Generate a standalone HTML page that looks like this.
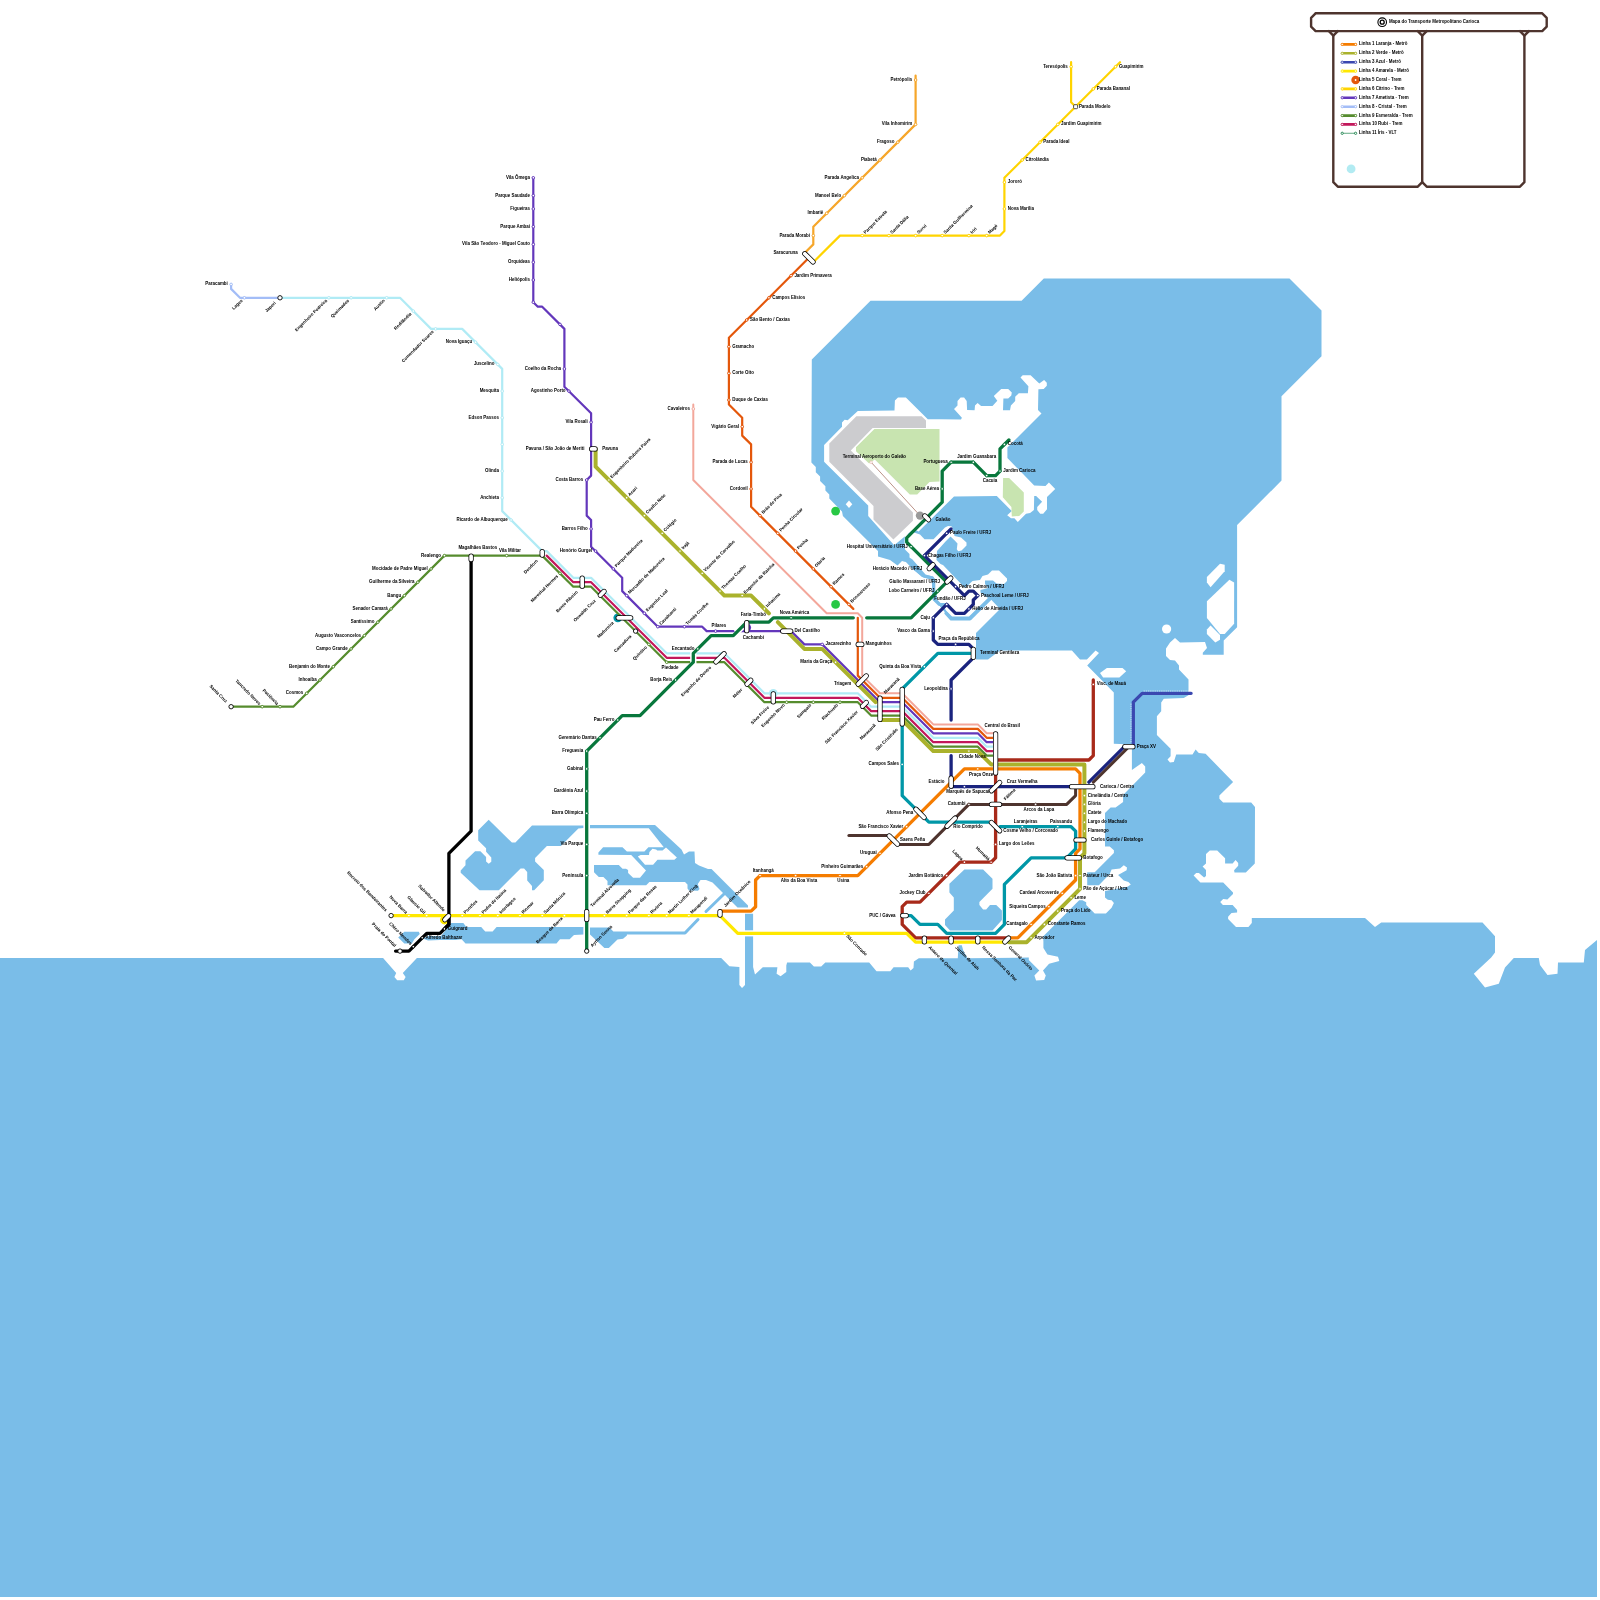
<!DOCTYPE html>
<html lang="pt-BR"><head><meta charset="utf-8"><title>Mapa do Transporte Metropolitano Carioca</title>
<style>html,body{margin:0;padding:0;background:#fff}svg{display:block;will-change:transform}</style></head>
<body>
<svg width="1600" height="1600" viewBox="0 0 1600 1600">
<rect width="1600" height="1600" fill="#fff"/>
<polygon points="870.5,300.7 1021.6,300.7 1043.8,278.5 1289.5,278.5 1321.5,310.5 1321.5,356.2 1281.5,396.2 1281.5,480.6 1237.1,525.1 1237.1,627.3 1223.7,640.6 1223.7,654.7 1202.8,654.8 1202.8,652.8 1207.0,648.0 1205.0,642.0 1180.0,642.5 1175.0,638.0 1170.0,642.5 1166.0,648.5 1166.0,656.0 1170.0,660.0 1175.0,660.5 1179.0,665.5 1179.0,669.5 1188.5,679.5 1188.5,690.0 1188.8,695.0 1183.8,698.1 1163.8,698.8 1161.2,702.5 1161.2,711.2 1156.9,716.2 1156.9,735.0 1170.6,748.8 1170.6,756.2 1167.5,759.4 1170.0,762.5 1173.8,761.9 1176.2,754.4 1192.5,754.4 1195.6,749.4 1198.8,753.1 1205.6,753.8 1233.1,781.9 1219.4,795.6 1219.4,798.8 1223.1,802.5 1251.2,802.5 1255.0,806.9 1254.8,863.5 1245.8,872.5 1234.5,872.5 1234.1,870.2 1238.2,865.8 1238.2,863.1 1235.6,860.1 1232.6,863.5 1225.1,863.5 1225.1,858.2 1217.2,850.4 1209.8,850.4 1206.0,854.1 1206.0,863.5 1202.6,866.5 1206.0,869.9 1206.0,875.9 1204.1,877.4 1198.9,872.9 1196.2,872.9 1193.6,875.5 1200.4,882.6 1223.2,882.6 1233.0,892.4 1233.0,893.9 1227.4,899.5 1223.2,899.1 1220.2,902.1 1222.9,905.1 1232.6,905.1 1237.1,910.0 1237.1,912.6 1231.5,913.0 1228.1,916.8 1228.1,919.0 1236.0,926.9 1248.4,926.9 1251.8,923.1 1251.8,917.9 1365.0,918.0 1375.0,927.0 1381.2,922.5 1482.5,922.5 1495.0,936.2 1495.0,952.5 1491.2,957.5 1473.8,973.8 1485.0,987.5 1498.8,983.8 1505.0,967.5 1513.8,958.0 1538.8,958.0 1540.0,965.0 1547.5,975.0 1557.5,973.8 1558.0,962.5 1583.8,962.5 1585.0,950.0 1597.0,940.0 1597.0,1597.0 -3.0,1597.0 -3.0,958.1 383.1,958.1 396.2,973.1 394.4,976.9 397.2,980.2 403.8,980.2 405.6,976.9 402.8,973.1 416.9,958.1 721.2,958.1 729.4,966.2 739.4,966.9 739.4,985.0 742.0,988.0 745.0,985.0 745.0,913.8 753.1,913.8 753.1,966.9 755.0,974.4 762.8,967.2 777.4,967.2 776.6,973.8 780.6,976.2 786.3,972.1 786.3,965.6 787.1,962.4 809.9,962.4 813.9,966.4 821.2,966.4 825.3,962.4 869.2,962.4 876.5,971.3 890.3,971.3 893.6,967.2 908.2,967.2 910.6,970.5 913.5,968.1 913.9,961.6 918.8,958.3 957.8,958.3 958.6,945.3 961.8,945.3 963.4,951.0 967.5,958.3 1028.8,957.6 1028.8,960.1 1039.3,970.6 1034.4,975.5 1036.1,980.4 1044.2,980.0 1045.8,975.5 1043.0,970.6 1049.1,963.8 1059.3,960.9 1058.0,956.8 1047.4,954.4 1043.4,947.9 1043.4,941.4 1043.1,936.4 1079.2,900.3 1082.5,900.3 1086.2,902.2 1086.2,905.0 1094.7,913.4 1105.9,913.4 1111.6,907.8 1113.9,903.1 1111.6,900.3 1107.8,899.8 1105.0,897.5 1105.0,890.9 1127.5,886.7 1130.8,884.4 1128.4,882.0 1123.8,880.6 1118.1,875.0 1126.6,870.3 1127.0,867.5 1123.8,865.2 1120.0,868.4 1111.6,869.4 1109.7,874.1 1098.9,885.3 1087.2,885.3 1087.2,872.2 1094.7,872.2 1113.9,853.0 1113.9,850.2 1109.7,846.4 1105.0,846.4 1105.0,830.0 1105.0,813.1 1110.6,807.5 1115.6,807.5 1123.1,801.9 1123.1,795.0 1145.2,772.5 1145.2,766.5 1141.9,763.1 1131.9,770.0 1131.9,744.4 1113.8,743.8 1113.8,692.5 1087.2,665.6 1099.0,653.1 1095.6,650.6 1086.9,659.4 1080.0,659.4 1071.9,650.6 1060.0,650.6 1000.0,650.6 988.0,659.5 976.0,659.5 976.0,633.0 1000.0,609.0 990.0,598.5 970.0,618.5 951.0,618.5 945.5,613.0 938.0,604.0 933.0,600.0 932.5,590.0 931.5,579.5 922.0,577.0 914.0,570.0 906.5,561.5 902.0,561.0 897.5,565.5 890.0,560.0 878.0,556.6 878.0,550.9 856.9,530.0 842.9,516.0 842.0,511.6 829.3,498.5 829.3,494.6 825.4,490.6 825.4,486.2 820.1,481.0 820.1,476.6 815.8,472.2 815.8,467.0 811.4,462.6 811.8,359.4" fill="#7abde8"/>
<polygon points="488.7,819.8 511.9,842.6 515.4,842.6 532.0,825.5 583.6,825.5 583.6,828.1 578.4,828.6 560.9,846.1 546.9,846.1 535.1,857.9 535.1,861.4 543.8,870.1 543.8,880.2 534.2,890.2 532.0,890.2 532.0,885.9 527.2,880.6 527.2,871.9 524.1,868.4 520.6,868.4 498.8,890.2 479.5,890.2 460.7,872.8 460.7,870.6 465.5,865.3 465.5,860.5 475.1,851.3 480.4,851.3 486.1,857.0 486.1,861.4 488.7,863.8 491.3,861.8 491.3,857.4 486.1,851.8 486.1,848.2 478.2,840.4 478.2,830.3" fill="#7abde8"/>
<polygon points="423.0,938.5 428.0,936.0 441.0,936.0 449.0,926.0 451.0,923.0 463.3,923.0 466.4,927.0 481.2,927.0 485.2,931.4 492.6,931.4 496.6,927.0 583.6,927.0 583.6,934.4 574.0,934.9 569.6,939.2 560.0,939.2 556.5,943.6 465.5,943.6 461.6,939.2 455.0,940.0 440.0,940.0 428.0,940.5" fill="#7abde8"/>
<polygon points="398.2,937.5 404.3,931.8 418.8,931.8 419.8,934.0 414.4,939.2 411.8,943.6 404.3,943.6" fill="#7abde8"/>
<polygon points="590.0,927.5 609.4,927.5 614.4,932.5 626.9,932.5 626.9,935.6 623.1,938.8 617.5,939.4 608.8,948.1 604.4,948.1 590.0,934.4" fill="#7abde8"/>
<polygon points="590.0,825.0 655.0,825.0 681.5,849.5 684.0,854.5 689.0,851.5 694.5,851.5 695.0,863.0 699.0,865.5 708.0,869.0 711.5,869.0 748.0,905.5 748.0,907.5 737.5,907.5 712.5,882.5 706.0,880.0 700.5,880.0 697.8,884.0 699.5,889.0 698.0,890.8 689.0,890.5 687.5,888.5 687.5,884.4 685.0,881.9 649.4,881.9 646.2,885.3 607.5,885.3 607.5,880.9 603.4,876.9 598.8,876.9 594.0,872.2 594.0,865.0 618.8,865.0 622.5,868.8 626.0,868.8 628.1,870.0 628.1,873.1 633.1,877.8 640.0,877.8 646.0,870.6 631.2,855.0 598.4,854.7 598.4,852.5 603.1,847.2 622.5,847.2 626.9,851.6 644.4,851.6 648.4,847.2 663.8,847.2 648.8,828.3 590.0,828.3" fill="#7abde8"/>
<polygon points="964.4,869.4 983.1,869.4 992.5,878.8 992.5,888.8 979.4,901.9 979.4,905.0 983.1,909.4 986.2,909.4 990.0,905.0 996.2,905.0 1001.9,910.6 1001.9,920.0 992.5,930.6 950.0,930.6 945.0,925.0 945.0,919.4 953.8,910.6 953.8,897.5 949.4,892.5 949.4,883.8" fill="#7abde8"/>
<polygon points="637.8,856.6 645.0,864.7 653.1,864.7 657.5,859.7 674.4,859.7 676.9,857.5 666.0,847.5 662.5,850.6 657.2,850.6 656.2,849.4 652.5,848.8 649.4,851.9 649.0,855.0 640.6,855.0" fill="#fff"/>
<polyline points="706.0,911.5 724.0,894.0" fill="none" stroke="#7abde8" stroke-width="3.00" stroke-linecap="round" stroke-linejoin="round"/>
<polyline points="614.0,933.0 685.0,933.0 698.0,919.5" fill="none" stroke="#7abde8" stroke-width="3.00" stroke-linecap="round" stroke-linejoin="round"/>
<polygon points="824.1,445.1 842.0,426.8 842.0,422.4 844.6,419.8 847.7,420.2 857.8,411.0 894.5,410.6 894.9,400.5 898.0,397.4 905.9,397.4 927.8,419.3 940.0,419.3 961.0,419.5 961.9,417.8 954.0,409.0 957.5,405.5 957.5,401.1 960.6,397.6 964.1,397.6 966.7,401.1 967.1,409.9 974.6,410.3 975.0,405.5 977.6,402.9 981.1,405.9 992.5,405.9 997.3,400.7 993.8,395.9 1001.2,388.9 1008.2,388.9 1011.8,392.4 1011.3,395.4 1008.2,398.5 1003.4,398.5 1003.0,410.3 1010.0,410.3 1010.9,405.5 1015.2,401.1 1015.2,396.8 1018.8,393.2 1027.9,393.2 1028.4,386.2 1020.5,377.5 1022.7,375.3 1030.6,375.3 1039.3,383.6 1044.1,380.1 1046.8,382.8 1046.8,385.8 1043.7,388.9 1038.4,389.3 1038.0,409.9 1041.5,413.4 1007.4,447.5 1007.4,458.0 1034.2,485.6 1045.5,486.0 1048.9,482.6 1055.2,489.0 1047.0,496.9 1047.0,509.2 1043.2,513.8 1040.2,513.8 1037.2,510.0 1037.2,507.0 1042.1,501.8 1036.1,496.1 1034.2,496.1 1033.9,510.0 1030.1,513.0 1026.0,513.8 1017.8,522.0 1014.4,518.2 1011.0,518.2 1007.2,515.2 1011.8,511.1 996.8,496.1 954.0,496.5 918.6,531.4 913.8,529.0 894.2,545.2 868.2,516.0 868.2,505.5 824.1,461.8" fill="#fff"/>
<polygon points="905.0,535.0 914.0,532.5 920.0,534.5 924.5,539.2 933.5,539.2 945.0,527.5 948.0,526.0 951.5,526.2 953.0,529.2 954.5,536.0 961.0,537.5 966.5,542.5 966.5,545.5 961.5,550.5 958.2,551.2 956.8,549.2 957.5,543.5 954.2,540.0 950.5,536.5 946.0,541.0 937.0,551.0 936.5,560.0 954.5,578.0 950.0,595.0 935.0,595.0 935.0,579.5 933.0,576.5 925.5,574.5 912.5,559.5 909.5,557.5 909.5,554.0 905.0,549.5 904.5,542.0" fill="#fff"/>
<polygon points="935.0,575.0 940.0,564.0 943.0,565.0 954.0,576.5 965.0,588.0 972.5,581.0 980.0,580.0 982.5,576.0 988.0,574.5 992.0,570.5 999.0,570.5 1007.0,578.5 1007.0,581.0 1004.0,584.0 996.5,583.5 993.0,580.5 985.0,580.5 985.0,584.0 988.0,588.0 980.5,590.0 980.5,592.5 986.5,597.0 988.0,598.0 969.0,616.5 952.0,616.5 946.5,611.0 941.5,604.0 937.0,599.5 936.5,585.0" fill="#fff"/>
<polygon points="1100.0,673.1 1106.9,668.1 1122.5,668.1 1126.2,671.2 1119.4,677.5 1103.1,677.5" fill="#fff"/>
<polygon points="1206.9,582.5 1206.9,576.9 1220.0,563.8 1224.7,564.7 1224.7,571.2 1210.6,587.2" fill="#fff"/>
<polygon points="1206.9,601.2 1229.4,579.7 1234.1,582.5 1234.1,623.8 1224.7,634.1 1220.0,634.1 1206.9,618.1" fill="#fff"/>
<polygon points="1206.9,629.4 1210.6,625.6 1220.0,635.0 1220.0,639.7 1215.3,642.5 1206.9,634.1" fill="#fff"/>
<polyline points="902.5,559.5 906.5,560.5 914.0,568.2 924.5,576.2 932.5,578.0 933.8,580.0 933.8,590.0 934.0,599.2 939.2,604.5 946.0,604.5" fill="none" stroke="#7abde8" stroke-width="3.00" stroke-linecap="round" stroke-linejoin="round"/>
<polyline points="946.0,613.1 951.2,618.8 970.0,618.8 991.8,597.0" fill="none" stroke="#7abde8" stroke-width="3.30" stroke-linecap="round" stroke-linejoin="round"/>
<circle cx="1166.6" cy="629" r="4.6" fill="#fff"/>
<polygon points="849.0,500.4 852.3,504.2 849.0,508.1 845.7,504.2" fill="#fff"/>
<polygon points="829.3,443.4 856.4,416.2 921.6,416.2 926.0,420.6 926.0,428.1 872.6,428.1 850.8,450.4 912.9,512.5 912.9,520.8 893.4,539.6 873.5,519.5 873.5,505.9 829.3,461.8" fill="#cccccf"/>
<polygon points="856.0,447.3 874.4,428.9 939.5,428.9 939.5,481.4 929.5,481.9 917.2,494.6 909.8,494.6 874.8,459.6 869.1,463.5 856.0,451.2" fill="#c8e4b0"/>
<polygon points="1003.1,478.1 1009.1,478.1 1023.8,492.4 1023.8,511.5 1019.2,516.0 1011.8,516.4 1011.4,507.0 1002.8,497.2" fill="#c8e4b0"/>
<polyline points="586.7,820.0 586.7,951.1" fill="none" stroke="#fff" stroke-width="6.20" stroke-linecap="butt" stroke-linejoin="round"/>
<polygon points="743.5,930.3 754.6,930.3 754.6,936.4 743.5,936.4" fill="#fff"/>
<circle cx="835.6" cy="511.1" r="4.4" fill="#28c845"/>
<circle cx="835.6" cy="604.4" r="4.4" fill="#28c845"/>
<polyline points="871.1,462.2 920.0,515.6" fill="none" stroke="#a9776b" stroke-width="0.80" stroke-linecap="round" stroke-linejoin="round"/>
<circle cx="920.0" cy="515.6" r="4.2" fill="#9a9a9a"/>
<circle cx="871.1" cy="462.2" r="1.3" fill="#fff" stroke="#e8b0a8" stroke-width="0.6"/>
<circle cx="617.8" cy="617.8" r="4.4" fill="#0097a7"/>
<circle cx="444.4" cy="920.0" r="4.4" fill="#ffe800"/>
<circle cx="746.7" cy="627.6" r="4.4" fill="#6337bb"/>
<circle cx="773.3" cy="693.3" r="4.4" fill="#b0ebf5"/>
<polyline points="231.1,284.4 231.1,288.9 240.0,297.8 280.0,297.8" fill="none" stroke="#a3bdf7" stroke-width="2.20" stroke-linecap="round" stroke-linejoin="round"/>
<polyline points="280.0,297.8 400.0,297.8 431.1,328.9 462.2,328.9 502.2,368.9 502.2,511.1 542.2,551.1 546.7,551.1 573.3,577.8 591.1,577.8 666.7,653.3 724.4,653.3 764.4,693.3 857.8,693.3 871.1,706.7 902.2,706.7 933.3,737.8 977.8,737.8 986.7,746.7 995.6,746.7" fill="none" stroke="#b0ebf5" stroke-width="2.20" stroke-linecap="round" stroke-linejoin="round"/>
<polyline points="546.7,555.6 573.3,582.2 591.1,582.2 666.7,657.8 724.4,657.8 764.4,697.8 857.8,697.8 871.1,711.1 902.2,711.1 933.3,742.2 977.8,742.2 986.7,751.1 995.6,751.1" fill="none" stroke="#c2185b" stroke-width="2.20" stroke-linecap="round" stroke-linejoin="round"/>
<polyline points="231.1,706.7 293.3,706.7 444.4,555.6 542.2,555.6 573.3,586.7 591.1,586.7 666.7,662.2 724.4,662.2 764.4,702.2 857.8,702.2 871.1,715.6 902.2,715.6 933.3,746.7 977.8,746.7 986.7,755.6 995.6,755.6" fill="none" stroke="#568c2e" stroke-width="2.20" stroke-linecap="round" stroke-linejoin="round"/>
<polyline points="533.3,177.8 533.3,302.2 537.8,306.7 542.2,306.7 564.4,328.9 564.4,386.7 591.1,413.3 591.1,475.6 586.7,480.0 586.7,515.6 591.1,520.0 591.1,546.7 622.2,577.8 622.2,591.1 657.8,626.7 702.2,626.7 706.7,631.1 791.1,631.1 804.4,644.4 822.2,644.4 880.0,702.2 902.2,702.2 933.3,733.3 977.8,733.3 986.7,742.2 995.6,742.2" fill="none" stroke="#6337bb" stroke-width="2.20" stroke-linecap="round" stroke-linejoin="round"/>
<polyline points="693.3,404.4 693.3,480.0 826.7,613.3 857.8,613.3 862.2,617.8 862.2,675.6 880.0,693.3 902.2,693.3 933.3,724.4 977.8,724.4 986.7,733.3 995.6,733.3" fill="none" stroke="#f3a79b" stroke-width="2.00" stroke-linecap="round" stroke-linejoin="round"/>
<polyline points="808.9,257.8 728.9,337.8 728.9,404.4 742.2,417.8 742.2,435.6 751.1,444.4 751.1,506.7 853.3,608.9" fill="none" stroke="#e4570b" stroke-width="2.20" stroke-linecap="round" stroke-linejoin="round"/>
<polyline points="857.8,617.8 857.8,675.6 880.0,697.8 902.2,697.8 933.3,728.9 977.8,728.9 986.7,737.8 995.6,737.8" fill="none" stroke="#e4570b" stroke-width="2.20" stroke-linecap="round" stroke-linejoin="round"/>
<polyline points="915.6,75.6 915.6,124.4 813.3,226.7 813.3,244.4 804.4,253.3" fill="none" stroke="#f6a62a" stroke-width="2.20" stroke-linecap="round" stroke-linejoin="round"/>
<polyline points="813.3,262.2 840.0,235.6 1000.0,235.6 1004.4,231.1 1004.4,177.8 1120.0,62.2" fill="none" stroke="#ffd400" stroke-width="2.20" stroke-linecap="round" stroke-linejoin="round"/>
<polyline points="1071.1,62.2 1071.1,102.2 1075.6,106.7" fill="none" stroke="#ffd400" stroke-width="2.20" stroke-linecap="round" stroke-linejoin="round"/>
<polyline points="693.3,649.8 693.3,665.8" fill="none" stroke="#fff" stroke-width="6.30" stroke-linecap="butt" stroke-linejoin="round"/>
<polyline points="736.0,632.9 742.2,626.7" fill="none" stroke="#fff" stroke-width="6.30" stroke-linecap="butt" stroke-linejoin="round"/>
<polyline points="1008.9,440.0 1000.0,448.9 1000.0,471.1 995.6,475.6 986.7,475.6 973.3,462.2 951.1,462.2 942.2,471.1 942.2,502.2 906.7,537.8 906.7,542.2 946.7,582.2 911.1,617.8 866.7,617.8" fill="none" stroke="#08773c" stroke-width="3.30" stroke-linecap="round" stroke-linejoin="round"/>
<polyline points="853.3,617.8 773.3,617.8 768.9,622.2 746.7,622.2 733.3,635.6 711.1,635.6 693.3,653.3 693.3,662.2 640.0,715.6 622.2,715.6 586.7,751.1 586.7,951.1" fill="none" stroke="#08773c" stroke-width="3.30" stroke-linecap="round" stroke-linejoin="round"/>
<polyline points="595.6,448.9 595.6,466.7 724.4,595.6 751.1,595.6 768.9,613.3" fill="none" stroke="#aab22c" stroke-width="4.00" stroke-linecap="round" stroke-linejoin="round"/>
<polyline points="777.8,622.2 804.4,648.9 822.2,648.9 875.6,702.2" fill="none" stroke="#aab22c" stroke-width="4.00" stroke-linecap="round" stroke-linejoin="round"/>
<polyline points="880.0,720.0 902.2,720.0 933.3,751.1 977.8,751.1 991.1,764.4 1084.4,764.4 1084.4,853.3 1080.0,857.8 1080.0,888.9 1026.7,942.2 1008.9,942.2" fill="none" stroke="#aab22c" stroke-width="4.00" stroke-linecap="round" stroke-linejoin="round"/>
<polyline points="973.3,653.3 937.8,653.3 902.2,688.9" fill="none" stroke="#0097a7" stroke-width="3.30" stroke-linecap="round" stroke-linejoin="round"/>
<polyline points="902.2,724.4 902.2,795.6 928.9,822.2 991.1,822.2" fill="none" stroke="#0097a7" stroke-width="3.30" stroke-linecap="round" stroke-linejoin="round"/>
<polyline points="1000.0,826.7 1071.1,826.7 1075.6,831.1 1075.6,848.9 1066.7,857.8 1031.1,857.8 1004.4,884.4 1004.4,924.4 995.6,933.3 946.7,933.3 937.8,924.4 920.0,924.4 911.1,915.6 906.7,915.6" fill="none" stroke="#0097a7" stroke-width="3.30" stroke-linecap="round" stroke-linejoin="round"/>
<polyline points="951.1,528.9 924.4,555.6 964.4,595.6 968.9,591.1 973.3,591.1 977.8,595.6 973.3,600.0 973.3,604.4 964.4,613.3 955.6,613.3 946.7,604.4 933.3,617.8 933.3,640.0 937.8,644.4 968.9,644.4 973.3,648.9" fill="none" stroke="#1a237e" stroke-width="3.30" stroke-linecap="round" stroke-linejoin="round"/>
<polyline points="973.3,657.8 951.1,680.0 951.1,720.0" fill="none" stroke="#1a237e" stroke-width="3.30" stroke-linecap="round" stroke-linejoin="round"/>
<polyline points="951.1,755.6 951.1,786.7 1088.9,786.7" fill="none" stroke="#1a237e" stroke-width="3.30" stroke-linecap="round" stroke-linejoin="round"/>
<polyline points="1088.9,782.2 1124.4,746.7" fill="none" stroke="#1a237e" stroke-width="3.30" stroke-linecap="round" stroke-linejoin="round"/>
<polyline points="1133.3,746.7 1133.3,702.2 1142.2,693.3 1191.1,693.3" fill="none" stroke="#3b48b0" stroke-width="3.30" stroke-linecap="round" stroke-linejoin="round"/>
<polyline points="848.9,835.6 888.9,835.6" fill="none" stroke="#4e342e" stroke-width="3.00" stroke-linecap="round" stroke-linejoin="round"/>
<polyline points="897.8,844.4 928.9,844.4 968.9,804.4 1066.7,804.4 1075.6,795.6 1075.6,786.7" fill="none" stroke="#4e342e" stroke-width="3.00" stroke-linecap="round" stroke-linejoin="round"/>
<polyline points="1093.3,782.2 1128.9,746.7" fill="none" stroke="#4e342e" stroke-width="3.00" stroke-linecap="round" stroke-linejoin="round"/>
<polyline points="1093.3,680.0 1093.3,755.6 1088.9,760.0 995.6,760.0" fill="none" stroke="#a82a1a" stroke-width="3.30" stroke-linecap="round" stroke-linejoin="round"/>
<polyline points="995.6,773.3 995.6,857.8 991.1,862.2 960.0,862.2 920.0,902.2 906.7,902.2 902.2,906.7 902.2,924.4 915.6,937.8 1008.9,937.8" fill="none" stroke="#a82a1a" stroke-width="3.30" stroke-linecap="round" stroke-linejoin="round"/>
<polyline points="720.0,911.1 751.1,911.1 755.6,906.7 755.6,880.0 760.0,875.6 857.8,875.6 964.4,768.9 1075.6,768.9 1080.0,773.3 1080.0,848.9 1075.6,853.3 1075.6,880.0 1017.8,937.8 1008.9,937.8" fill="none" stroke="#f57c00" stroke-width="3.30" stroke-linecap="round" stroke-linejoin="round"/>
<polyline points="391.1,915.6 720.0,915.6 737.8,933.3 906.7,933.3 915.6,942.2 1004.4,942.2" fill="none" stroke="#ffe800" stroke-width="3.30" stroke-linecap="round" stroke-linejoin="round"/>
<polyline points="471.1,560.0 471.1,831.1 448.9,853.3 448.9,924.4 440.0,933.3 426.7,933.3 408.9,951.1 395.6,951.1" fill="none" stroke="#000000" stroke-width="3.30" stroke-linecap="round" stroke-linejoin="round"/>
<polyline points="448.9,915.6 448.9,924.4 444.4,928.9" fill="none" stroke="#000000" stroke-width="3.30" stroke-linecap="round" stroke-linejoin="round"/>
<polyline points="804.8,253.7 813.0,261.9" fill="none" stroke="#000" stroke-width="5.20" stroke-linecap="round" stroke-linejoin="round"/>
<polyline points="804.8,253.7 813.0,261.9" fill="none" stroke="#fff" stroke-width="3.70" stroke-linecap="round" stroke-linejoin="round"/>
<polyline points="591.6,448.9 595.1,448.9" fill="none" stroke="#000" stroke-width="5.20" stroke-linecap="round" stroke-linejoin="round"/>
<polyline points="591.6,448.9 595.1,448.9" fill="none" stroke="#fff" stroke-width="3.70" stroke-linecap="round" stroke-linejoin="round"/>
<polyline points="471.1,556.0 471.1,559.5" fill="none" stroke="#000" stroke-width="5.20" stroke-linecap="round" stroke-linejoin="round"/>
<polyline points="471.1,556.0 471.1,559.5" fill="none" stroke="#fff" stroke-width="3.70" stroke-linecap="round" stroke-linejoin="round"/>
<polyline points="542.2,551.6 542.2,555.1" fill="none" stroke="#000" stroke-width="5.20" stroke-linecap="round" stroke-linejoin="round"/>
<polyline points="542.2,551.6 542.2,555.1" fill="none" stroke="#fff" stroke-width="3.70" stroke-linecap="round" stroke-linejoin="round"/>
<polyline points="582.2,578.2 582.2,586.2" fill="none" stroke="#000" stroke-width="5.20" stroke-linecap="round" stroke-linejoin="round"/>
<polyline points="582.2,578.2 582.2,586.2" fill="none" stroke="#fff" stroke-width="3.70" stroke-linecap="round" stroke-linejoin="round"/>
<polyline points="600.3,595.2 604.1,591.4" fill="none" stroke="#000" stroke-width="5.20" stroke-linecap="round" stroke-linejoin="round"/>
<polyline points="600.3,595.2 604.1,591.4" fill="none" stroke="#fff" stroke-width="3.70" stroke-linecap="round" stroke-linejoin="round"/>
<polyline points="618.2,617.8 630.7,617.8" fill="none" stroke="#000" stroke-width="5.20" stroke-linecap="round" stroke-linejoin="round"/>
<polyline points="618.2,617.8 630.7,617.8" fill="none" stroke="#fff" stroke-width="3.70" stroke-linecap="round" stroke-linejoin="round"/>
<polyline points="715.9,661.9 724.1,653.7" fill="none" stroke="#000" stroke-width="5.20" stroke-linecap="round" stroke-linejoin="round"/>
<polyline points="715.9,661.9 724.1,653.7" fill="none" stroke="#fff" stroke-width="3.70" stroke-linecap="round" stroke-linejoin="round"/>
<polyline points="747.0,684.1 750.8,680.3" fill="none" stroke="#000" stroke-width="5.20" stroke-linecap="round" stroke-linejoin="round"/>
<polyline points="747.0,684.1 750.8,680.3" fill="none" stroke="#fff" stroke-width="3.70" stroke-linecap="round" stroke-linejoin="round"/>
<polyline points="773.3,693.8 773.3,701.8" fill="none" stroke="#000" stroke-width="5.20" stroke-linecap="round" stroke-linejoin="round"/>
<polyline points="773.3,693.8 773.3,701.8" fill="none" stroke="#fff" stroke-width="3.70" stroke-linecap="round" stroke-linejoin="round"/>
<polyline points="862.5,706.3 866.3,702.5" fill="none" stroke="#000" stroke-width="5.20" stroke-linecap="round" stroke-linejoin="round"/>
<polyline points="862.5,706.3 866.3,702.5" fill="none" stroke="#fff" stroke-width="3.70" stroke-linecap="round" stroke-linejoin="round"/>
<polyline points="880.0,698.2 880.0,719.5" fill="none" stroke="#000" stroke-width="5.20" stroke-linecap="round" stroke-linejoin="round"/>
<polyline points="880.0,698.2 880.0,719.5" fill="none" stroke="#fff" stroke-width="3.70" stroke-linecap="round" stroke-linejoin="round"/>
<polyline points="902.2,689.3 902.2,724.0" fill="none" stroke="#000" stroke-width="5.20" stroke-linecap="round" stroke-linejoin="round"/>
<polyline points="902.2,689.3 902.2,724.0" fill="none" stroke="#fff" stroke-width="3.70" stroke-linecap="round" stroke-linejoin="round"/>
<polyline points="746.7,622.7 746.7,630.7" fill="none" stroke="#000" stroke-width="5.20" stroke-linecap="round" stroke-linejoin="round"/>
<polyline points="746.7,622.7 746.7,630.7" fill="none" stroke="#fff" stroke-width="3.70" stroke-linecap="round" stroke-linejoin="round"/>
<polyline points="782.7,631.1 790.7,631.1" fill="none" stroke="#000" stroke-width="5.20" stroke-linecap="round" stroke-linejoin="round"/>
<polyline points="782.7,631.1 790.7,631.1" fill="none" stroke="#fff" stroke-width="3.70" stroke-linecap="round" stroke-linejoin="round"/>
<polyline points="858.2,644.4 861.8,644.4" fill="none" stroke="#000" stroke-width="5.20" stroke-linecap="round" stroke-linejoin="round"/>
<polyline points="858.2,644.4 861.8,644.4" fill="none" stroke="#fff" stroke-width="3.70" stroke-linecap="round" stroke-linejoin="round"/>
<polyline points="858.1,684.1 866.3,675.9" fill="none" stroke="#000" stroke-width="5.20" stroke-linecap="round" stroke-linejoin="round"/>
<polyline points="858.1,684.1 866.3,675.9" fill="none" stroke="#fff" stroke-width="3.70" stroke-linecap="round" stroke-linejoin="round"/>
<polyline points="995.6,733.8 995.6,772.9" fill="none" stroke="#000" stroke-width="5.20" stroke-linecap="round" stroke-linejoin="round"/>
<polyline points="995.6,733.8 995.6,772.9" fill="none" stroke="#fff" stroke-width="3.70" stroke-linecap="round" stroke-linejoin="round"/>
<polyline points="924.8,515.9 928.6,519.7" fill="none" stroke="#000" stroke-width="5.20" stroke-linecap="round" stroke-linejoin="round"/>
<polyline points="924.8,515.9 928.6,519.7" fill="none" stroke="#fff" stroke-width="3.70" stroke-linecap="round" stroke-linejoin="round"/>
<polyline points="929.2,568.6 933.0,564.8" fill="none" stroke="#000" stroke-width="5.20" stroke-linecap="round" stroke-linejoin="round"/>
<polyline points="929.2,568.6 933.0,564.8" fill="none" stroke="#fff" stroke-width="3.70" stroke-linecap="round" stroke-linejoin="round"/>
<polyline points="947.0,581.9 950.8,578.1" fill="none" stroke="#000" stroke-width="5.20" stroke-linecap="round" stroke-linejoin="round"/>
<polyline points="947.0,581.9 950.8,578.1" fill="none" stroke="#fff" stroke-width="3.70" stroke-linecap="round" stroke-linejoin="round"/>
<polyline points="973.3,649.3 973.3,657.3" fill="none" stroke="#000" stroke-width="5.20" stroke-linecap="round" stroke-linejoin="round"/>
<polyline points="973.3,649.3 973.3,657.3" fill="none" stroke="#fff" stroke-width="3.70" stroke-linecap="round" stroke-linejoin="round"/>
<polyline points="951.1,778.2 951.1,786.2" fill="none" stroke="#000" stroke-width="5.20" stroke-linecap="round" stroke-linejoin="round"/>
<polyline points="951.1,778.2 951.1,786.2" fill="none" stroke="#fff" stroke-width="3.70" stroke-linecap="round" stroke-linejoin="round"/>
<polyline points="991.4,790.8 999.7,782.5" fill="none" stroke="#000" stroke-width="5.20" stroke-linecap="round" stroke-linejoin="round"/>
<polyline points="991.4,790.8 999.7,782.5" fill="none" stroke="#fff" stroke-width="3.70" stroke-linecap="round" stroke-linejoin="round"/>
<polyline points="1071.6,786.7 1092.9,786.7" fill="none" stroke="#000" stroke-width="5.20" stroke-linecap="round" stroke-linejoin="round"/>
<polyline points="1071.6,786.7 1092.9,786.7" fill="none" stroke="#fff" stroke-width="3.70" stroke-linecap="round" stroke-linejoin="round"/>
<polyline points="1124.9,746.7 1132.9,746.7" fill="none" stroke="#000" stroke-width="5.20" stroke-linecap="round" stroke-linejoin="round"/>
<polyline points="1124.9,746.7 1132.9,746.7" fill="none" stroke="#fff" stroke-width="3.70" stroke-linecap="round" stroke-linejoin="round"/>
<polyline points="991.6,804.4 999.5,804.4" fill="none" stroke="#000" stroke-width="5.20" stroke-linecap="round" stroke-linejoin="round"/>
<polyline points="991.6,804.4 999.5,804.4" fill="none" stroke="#fff" stroke-width="3.70" stroke-linecap="round" stroke-linejoin="round"/>
<polyline points="915.9,809.2 924.1,817.5" fill="none" stroke="#000" stroke-width="5.20" stroke-linecap="round" stroke-linejoin="round"/>
<polyline points="915.9,809.2 924.1,817.5" fill="none" stroke="#fff" stroke-width="3.70" stroke-linecap="round" stroke-linejoin="round"/>
<polyline points="889.2,835.9 897.5,844.1" fill="none" stroke="#000" stroke-width="5.20" stroke-linecap="round" stroke-linejoin="round"/>
<polyline points="889.2,835.9 897.5,844.1" fill="none" stroke="#fff" stroke-width="3.70" stroke-linecap="round" stroke-linejoin="round"/>
<polyline points="947.0,826.3 955.2,818.1" fill="none" stroke="#000" stroke-width="5.20" stroke-linecap="round" stroke-linejoin="round"/>
<polyline points="947.0,826.3 955.2,818.1" fill="none" stroke="#fff" stroke-width="3.70" stroke-linecap="round" stroke-linejoin="round"/>
<polyline points="991.4,822.5 999.7,830.8" fill="none" stroke="#000" stroke-width="5.20" stroke-linecap="round" stroke-linejoin="round"/>
<polyline points="991.4,822.5 999.7,830.8" fill="none" stroke="#fff" stroke-width="3.70" stroke-linecap="round" stroke-linejoin="round"/>
<polyline points="1076.0,840.0 1084.0,840.0" fill="none" stroke="#000" stroke-width="5.20" stroke-linecap="round" stroke-linejoin="round"/>
<polyline points="1076.0,840.0 1084.0,840.0" fill="none" stroke="#fff" stroke-width="3.70" stroke-linecap="round" stroke-linejoin="round"/>
<polyline points="1067.1,857.8 1079.5,857.8" fill="none" stroke="#000" stroke-width="5.20" stroke-linecap="round" stroke-linejoin="round"/>
<polyline points="1067.1,857.8 1079.5,857.8" fill="none" stroke="#fff" stroke-width="3.70" stroke-linecap="round" stroke-linejoin="round"/>
<polyline points="902.7,915.6 906.2,915.6" fill="none" stroke="#000" stroke-width="5.20" stroke-linecap="round" stroke-linejoin="round"/>
<polyline points="902.7,915.6 906.2,915.6" fill="none" stroke="#fff" stroke-width="3.70" stroke-linecap="round" stroke-linejoin="round"/>
<polyline points="924.4,938.2 924.4,941.8" fill="none" stroke="#000" stroke-width="5.20" stroke-linecap="round" stroke-linejoin="round"/>
<polyline points="924.4,938.2 924.4,941.8" fill="none" stroke="#fff" stroke-width="3.70" stroke-linecap="round" stroke-linejoin="round"/>
<polyline points="951.1,938.2 951.1,941.8" fill="none" stroke="#000" stroke-width="5.20" stroke-linecap="round" stroke-linejoin="round"/>
<polyline points="951.1,938.2 951.1,941.8" fill="none" stroke="#fff" stroke-width="3.70" stroke-linecap="round" stroke-linejoin="round"/>
<polyline points="977.8,938.2 977.8,941.8" fill="none" stroke="#000" stroke-width="5.20" stroke-linecap="round" stroke-linejoin="round"/>
<polyline points="977.8,938.2 977.8,941.8" fill="none" stroke="#fff" stroke-width="3.70" stroke-linecap="round" stroke-linejoin="round"/>
<polyline points="1004.8,941.9 1008.6,938.1" fill="none" stroke="#000" stroke-width="5.20" stroke-linecap="round" stroke-linejoin="round"/>
<polyline points="1004.8,941.9 1008.6,938.1" fill="none" stroke="#fff" stroke-width="3.70" stroke-linecap="round" stroke-linejoin="round"/>
<polyline points="720.0,911.6 720.0,915.1" fill="none" stroke="#000" stroke-width="5.20" stroke-linecap="round" stroke-linejoin="round"/>
<polyline points="720.0,911.6 720.0,915.1" fill="none" stroke="#fff" stroke-width="3.70" stroke-linecap="round" stroke-linejoin="round"/>
<polyline points="586.7,911.6 586.7,919.5" fill="none" stroke="#000" stroke-width="5.20" stroke-linecap="round" stroke-linejoin="round"/>
<polyline points="586.7,911.6 586.7,919.5" fill="none" stroke="#fff" stroke-width="3.70" stroke-linecap="round" stroke-linejoin="round"/>
<polyline points="444.8,919.7 448.6,915.9" fill="none" stroke="#000" stroke-width="5.20" stroke-linecap="round" stroke-linejoin="round"/>
<polyline points="444.8,919.7 448.6,915.9" fill="none" stroke="#fff" stroke-width="3.70" stroke-linecap="round" stroke-linejoin="round"/>
<rect x="1073.6" y="104.7" width="4" height="4" rx="1" fill="#fff" stroke="#222" stroke-width="0.8"/>
<polyline points="1131.0,703.6 1131.0,742.2" fill="none" stroke="#fff" stroke-width="0.60" stroke-linecap="butt" stroke-linejoin="round" stroke-dasharray="1.3 0.9"/>
<polyline points="1143.6,691.0 1188.9,691.0" fill="none" stroke="#fff" stroke-width="0.60" stroke-linecap="butt" stroke-linejoin="round" stroke-dasharray="1.3 0.9"/>
<circle cx="231.1" cy="284.4" r="1.3" fill="#fff" stroke="#a3bdf7" stroke-width="1.0"/>
<circle cx="244.4" cy="297.8" r="1.3" fill="#fff" stroke="#a3bdf7" stroke-width="1.0"/>
<circle cx="280.0" cy="297.8" r="2.2" fill="#fff" stroke="#000" stroke-width="0.9"/>
<circle cx="328.9" cy="297.8" r="1.3" fill="#fff" stroke="#b0ebf5" stroke-width="1.0"/>
<circle cx="351.1" cy="297.8" r="1.3" fill="#fff" stroke="#b0ebf5" stroke-width="1.0"/>
<circle cx="386.7" cy="297.8" r="1.3" fill="#fff" stroke="#b0ebf5" stroke-width="1.0"/>
<circle cx="413.3" cy="311.1" r="1.3" fill="#fff" stroke="#b0ebf5" stroke-width="1.0"/>
<circle cx="435.6" cy="328.9" r="1.3" fill="#fff" stroke="#b0ebf5" stroke-width="1.0"/>
<circle cx="475.6" cy="342.2" r="1.3" fill="#fff" stroke="#b0ebf5" stroke-width="1.0"/>
<circle cx="497.8" cy="364.4" r="1.3" fill="#fff" stroke="#b0ebf5" stroke-width="1.0"/>
<circle cx="502.2" cy="391.1" r="1.3" fill="#fff" stroke="#b0ebf5" stroke-width="1.0"/>
<circle cx="502.2" cy="417.8" r="1.3" fill="#fff" stroke="#b0ebf5" stroke-width="1.0"/>
<circle cx="502.2" cy="444.4" r="1.3" fill="#fff" stroke="#b0ebf5" stroke-width="1.0"/>
<circle cx="502.2" cy="471.1" r="1.3" fill="#fff" stroke="#b0ebf5" stroke-width="1.0"/>
<circle cx="502.2" cy="497.8" r="1.3" fill="#fff" stroke="#b0ebf5" stroke-width="1.0"/>
<circle cx="511.1" cy="520.0" r="1.3" fill="#fff" stroke="#b0ebf5" stroke-width="1.0"/>
<circle cx="533.3" cy="177.8" r="1.3" fill="#fff" stroke="#6337bb" stroke-width="1.0"/>
<circle cx="533.3" cy="195.6" r="1.3" fill="#fff" stroke="#6337bb" stroke-width="1.0"/>
<circle cx="533.3" cy="208.9" r="1.3" fill="#fff" stroke="#6337bb" stroke-width="1.0"/>
<circle cx="533.3" cy="226.7" r="1.3" fill="#fff" stroke="#6337bb" stroke-width="1.0"/>
<circle cx="533.3" cy="244.4" r="1.3" fill="#fff" stroke="#6337bb" stroke-width="1.0"/>
<circle cx="533.3" cy="262.2" r="1.3" fill="#fff" stroke="#6337bb" stroke-width="1.0"/>
<circle cx="533.3" cy="280.0" r="1.3" fill="#fff" stroke="#6337bb" stroke-width="1.0"/>
<circle cx="533.3" cy="302.2" r="1.3" fill="#fff" stroke="#6337bb" stroke-width="1.0"/>
<circle cx="560.0" cy="324.4" r="1.3" fill="#fff" stroke="#6337bb" stroke-width="1.0"/>
<circle cx="564.4" cy="368.9" r="1.3" fill="#fff" stroke="#6337bb" stroke-width="1.0"/>
<circle cx="568.9" cy="391.1" r="1.3" fill="#fff" stroke="#6337bb" stroke-width="1.0"/>
<circle cx="591.1" cy="422.2" r="1.3" fill="#fff" stroke="#6337bb" stroke-width="1.0"/>
<circle cx="586.7" cy="480.0" r="1.3" fill="#fff" stroke="#6337bb" stroke-width="1.0"/>
<circle cx="591.1" cy="528.9" r="1.3" fill="#fff" stroke="#6337bb" stroke-width="1.0"/>
<circle cx="595.6" cy="551.1" r="1.3" fill="#fff" stroke="#6337bb" stroke-width="1.0"/>
<circle cx="613.3" cy="568.9" r="1.3" fill="#fff" stroke="#6337bb" stroke-width="1.0"/>
<circle cx="626.7" cy="595.6" r="1.3" fill="#fff" stroke="#6337bb" stroke-width="1.0"/>
<circle cx="644.4" cy="613.3" r="1.3" fill="#fff" stroke="#6337bb" stroke-width="1.0"/>
<circle cx="657.8" cy="626.7" r="1.3" fill="#fff" stroke="#6337bb" stroke-width="1.0"/>
<circle cx="684.4" cy="626.7" r="1.3" fill="#fff" stroke="#6337bb" stroke-width="1.0"/>
<circle cx="715.6" cy="631.1" r="1.3" fill="#fff" stroke="#6337bb" stroke-width="1.0"/>
<circle cx="822.2" cy="644.4" r="1.3" fill="#fff" stroke="#6337bb" stroke-width="1.0"/>
<circle cx="608.9" cy="480.0" r="1.3" fill="#fff" stroke="#aab22c" stroke-width="1.0"/>
<circle cx="626.7" cy="497.8" r="1.3" fill="#fff" stroke="#aab22c" stroke-width="1.0"/>
<circle cx="644.4" cy="515.6" r="1.3" fill="#fff" stroke="#aab22c" stroke-width="1.0"/>
<circle cx="662.2" cy="533.3" r="1.3" fill="#fff" stroke="#aab22c" stroke-width="1.0"/>
<circle cx="680.0" cy="551.1" r="1.3" fill="#fff" stroke="#aab22c" stroke-width="1.0"/>
<circle cx="702.2" cy="573.3" r="1.3" fill="#fff" stroke="#aab22c" stroke-width="1.0"/>
<circle cx="720.0" cy="591.1" r="1.3" fill="#fff" stroke="#aab22c" stroke-width="1.0"/>
<circle cx="742.2" cy="595.6" r="1.3" fill="#fff" stroke="#aab22c" stroke-width="1.0"/>
<circle cx="764.4" cy="608.9" r="1.3" fill="#fff" stroke="#aab22c" stroke-width="1.0"/>
<circle cx="835.6" cy="662.2" r="1.3" fill="#fff" stroke="#aab22c" stroke-width="1.0"/>
<circle cx="968.9" cy="751.1" r="1.3" fill="#fff" stroke="#aab22c" stroke-width="1.0"/>
<circle cx="1084.4" cy="795.6" r="1.3" fill="#fff" stroke="#aab22c" stroke-width="1.0"/>
<circle cx="1084.4" cy="804.4" r="1.3" fill="#fff" stroke="#aab22c" stroke-width="1.0"/>
<circle cx="1084.4" cy="813.3" r="1.3" fill="#fff" stroke="#aab22c" stroke-width="1.0"/>
<circle cx="1084.4" cy="822.2" r="1.3" fill="#fff" stroke="#aab22c" stroke-width="1.0"/>
<circle cx="1084.4" cy="831.1" r="1.3" fill="#fff" stroke="#aab22c" stroke-width="1.0"/>
<circle cx="1080.0" cy="875.6" r="1.3" fill="#fff" stroke="#aab22c" stroke-width="1.0"/>
<circle cx="1080.0" cy="888.9" r="1.3" fill="#fff" stroke="#aab22c" stroke-width="1.0"/>
<circle cx="1071.1" cy="897.8" r="1.3" fill="#fff" stroke="#aab22c" stroke-width="1.0"/>
<circle cx="1057.8" cy="911.1" r="1.3" fill="#fff" stroke="#aab22c" stroke-width="1.0"/>
<circle cx="1044.4" cy="924.4" r="1.3" fill="#fff" stroke="#aab22c" stroke-width="1.0"/>
<circle cx="1031.1" cy="937.8" r="1.3" fill="#fff" stroke="#aab22c" stroke-width="1.0"/>
<circle cx="760.0" cy="875.6" r="1.3" fill="#fff" stroke="#f57c00" stroke-width="1.0"/>
<circle cx="795.6" cy="875.6" r="1.3" fill="#fff" stroke="#f57c00" stroke-width="1.0"/>
<circle cx="840.0" cy="875.6" r="1.3" fill="#fff" stroke="#f57c00" stroke-width="1.0"/>
<circle cx="866.7" cy="866.7" r="1.3" fill="#fff" stroke="#f57c00" stroke-width="1.0"/>
<circle cx="880.0" cy="853.3" r="1.3" fill="#fff" stroke="#f57c00" stroke-width="1.0"/>
<circle cx="906.7" cy="826.7" r="1.3" fill="#fff" stroke="#f57c00" stroke-width="1.0"/>
<circle cx="977.8" cy="768.9" r="1.3" fill="#fff" stroke="#f57c00" stroke-width="1.0"/>
<circle cx="1075.6" cy="875.6" r="1.3" fill="#fff" stroke="#f57c00" stroke-width="1.0"/>
<circle cx="1062.2" cy="893.3" r="1.3" fill="#fff" stroke="#f57c00" stroke-width="1.0"/>
<circle cx="1048.9" cy="906.7" r="1.3" fill="#fff" stroke="#f57c00" stroke-width="1.0"/>
<circle cx="1031.1" cy="924.4" r="1.3" fill="#fff" stroke="#f57c00" stroke-width="1.0"/>
<circle cx="391.1" cy="915.6" r="2.2" fill="#fff" stroke="#000" stroke-width="0.9"/>
<circle cx="408.9" cy="915.6" r="1.3" fill="#fff" stroke="#ffe800" stroke-width="1.0"/>
<circle cx="426.7" cy="915.6" r="1.3" fill="#fff" stroke="#ffe800" stroke-width="1.0"/>
<circle cx="462.2" cy="915.6" r="1.3" fill="#fff" stroke="#ffe800" stroke-width="1.0"/>
<circle cx="480.0" cy="915.6" r="1.3" fill="#fff" stroke="#ffe800" stroke-width="1.0"/>
<circle cx="497.8" cy="915.6" r="1.3" fill="#fff" stroke="#ffe800" stroke-width="1.0"/>
<circle cx="520.0" cy="915.6" r="1.3" fill="#fff" stroke="#ffe800" stroke-width="1.0"/>
<circle cx="542.2" cy="915.6" r="1.3" fill="#fff" stroke="#ffe800" stroke-width="1.0"/>
<circle cx="564.4" cy="915.6" r="1.3" fill="#fff" stroke="#ffe800" stroke-width="1.0"/>
<circle cx="604.4" cy="915.6" r="1.3" fill="#fff" stroke="#ffe800" stroke-width="1.0"/>
<circle cx="626.7" cy="915.6" r="1.3" fill="#fff" stroke="#ffe800" stroke-width="1.0"/>
<circle cx="648.9" cy="915.6" r="1.3" fill="#fff" stroke="#ffe800" stroke-width="1.0"/>
<circle cx="666.7" cy="915.6" r="1.3" fill="#fff" stroke="#ffe800" stroke-width="1.0"/>
<circle cx="688.9" cy="915.6" r="1.3" fill="#fff" stroke="#ffe800" stroke-width="1.0"/>
<circle cx="844.4" cy="933.3" r="1.3" fill="#fff" stroke="#ffe800" stroke-width="1.0"/>
<circle cx="444.4" cy="928.9" r="1.3" fill="#fff" stroke="#000000" stroke-width="1.0"/>
<circle cx="422.2" cy="937.8" r="1.3" fill="#fff" stroke="#000000" stroke-width="1.0"/>
<circle cx="413.3" cy="946.7" r="1.3" fill="#fff" stroke="#000000" stroke-width="1.0"/>
<circle cx="400.0" cy="951.1" r="2.2" fill="#fff" stroke="#000" stroke-width="0.9"/>
<circle cx="231.1" cy="706.7" r="2.2" fill="#fff" stroke="#000" stroke-width="0.9"/>
<circle cx="262.2" cy="706.7" r="1.3" fill="#fff" stroke="#568c2e" stroke-width="1.0"/>
<circle cx="280.0" cy="706.7" r="1.3" fill="#fff" stroke="#568c2e" stroke-width="1.0"/>
<circle cx="306.7" cy="693.3" r="1.3" fill="#fff" stroke="#568c2e" stroke-width="1.0"/>
<circle cx="320.0" cy="680.0" r="1.3" fill="#fff" stroke="#568c2e" stroke-width="1.0"/>
<circle cx="333.3" cy="666.7" r="1.3" fill="#fff" stroke="#568c2e" stroke-width="1.0"/>
<circle cx="351.1" cy="648.9" r="1.3" fill="#fff" stroke="#568c2e" stroke-width="1.0"/>
<circle cx="364.4" cy="635.6" r="1.3" fill="#fff" stroke="#568c2e" stroke-width="1.0"/>
<circle cx="377.8" cy="622.2" r="1.3" fill="#fff" stroke="#568c2e" stroke-width="1.0"/>
<circle cx="391.1" cy="608.9" r="1.3" fill="#fff" stroke="#568c2e" stroke-width="1.0"/>
<circle cx="404.4" cy="595.6" r="1.3" fill="#fff" stroke="#568c2e" stroke-width="1.0"/>
<circle cx="417.8" cy="582.2" r="1.3" fill="#fff" stroke="#568c2e" stroke-width="1.0"/>
<circle cx="431.1" cy="568.9" r="1.3" fill="#fff" stroke="#568c2e" stroke-width="1.0"/>
<circle cx="444.4" cy="555.6" r="1.3" fill="#fff" stroke="#568c2e" stroke-width="1.0"/>
<circle cx="506.7" cy="555.6" r="1.3" fill="#fff" stroke="#568c2e" stroke-width="1.0"/>
<circle cx="560.0" cy="573.3" r="1.3" fill="#fff" stroke="#568c2e" stroke-width="1.0"/>
<circle cx="635.6" cy="631.1" r="2.2" fill="#fff" stroke="#000" stroke-width="0.9"/>
<circle cx="648.9" cy="644.4" r="1.3" fill="#fff" stroke="#568c2e" stroke-width="1.0"/>
<circle cx="666.7" cy="662.2" r="1.3" fill="#fff" stroke="#568c2e" stroke-width="1.0"/>
<circle cx="786.7" cy="702.2" r="1.3" fill="#fff" stroke="#568c2e" stroke-width="1.0"/>
<circle cx="813.3" cy="702.2" r="1.3" fill="#fff" stroke="#568c2e" stroke-width="1.0"/>
<circle cx="840.0" cy="702.2" r="1.3" fill="#fff" stroke="#568c2e" stroke-width="1.0"/>
<circle cx="791.1" cy="275.6" r="1.3" fill="#fff" stroke="#e4570b" stroke-width="1.0"/>
<circle cx="768.9" cy="297.8" r="1.3" fill="#fff" stroke="#e4570b" stroke-width="1.0"/>
<circle cx="746.7" cy="320.0" r="1.3" fill="#fff" stroke="#e4570b" stroke-width="1.0"/>
<circle cx="728.9" cy="346.7" r="1.3" fill="#fff" stroke="#e4570b" stroke-width="1.0"/>
<circle cx="728.9" cy="373.3" r="1.3" fill="#fff" stroke="#e4570b" stroke-width="1.0"/>
<circle cx="728.9" cy="400.0" r="1.3" fill="#fff" stroke="#e4570b" stroke-width="1.0"/>
<circle cx="742.2" cy="426.7" r="1.3" fill="#fff" stroke="#e4570b" stroke-width="1.0"/>
<circle cx="751.1" cy="462.2" r="1.3" fill="#fff" stroke="#e4570b" stroke-width="1.0"/>
<circle cx="751.1" cy="488.9" r="1.3" fill="#fff" stroke="#e4570b" stroke-width="1.0"/>
<circle cx="760.0" cy="515.6" r="1.3" fill="#fff" stroke="#e4570b" stroke-width="1.0"/>
<circle cx="777.8" cy="533.3" r="1.3" fill="#fff" stroke="#e4570b" stroke-width="1.0"/>
<circle cx="795.6" cy="551.1" r="1.3" fill="#fff" stroke="#e4570b" stroke-width="1.0"/>
<circle cx="813.3" cy="568.9" r="1.3" fill="#fff" stroke="#e4570b" stroke-width="1.0"/>
<circle cx="831.1" cy="586.7" r="1.3" fill="#fff" stroke="#e4570b" stroke-width="1.0"/>
<circle cx="848.9" cy="604.4" r="1.3" fill="#fff" stroke="#e4570b" stroke-width="1.0"/>
<circle cx="915.6" cy="80.0" r="1.3" fill="#fff" stroke="#f6a62a" stroke-width="1.0"/>
<circle cx="915.6" cy="124.4" r="1.3" fill="#fff" stroke="#f6a62a" stroke-width="1.0"/>
<circle cx="897.8" cy="142.2" r="1.3" fill="#fff" stroke="#f6a62a" stroke-width="1.0"/>
<circle cx="880.0" cy="160.0" r="1.3" fill="#fff" stroke="#f6a62a" stroke-width="1.0"/>
<circle cx="862.2" cy="177.8" r="1.3" fill="#fff" stroke="#f6a62a" stroke-width="1.0"/>
<circle cx="844.4" cy="195.6" r="1.3" fill="#fff" stroke="#f6a62a" stroke-width="1.0"/>
<circle cx="826.7" cy="213.3" r="1.3" fill="#fff" stroke="#f6a62a" stroke-width="1.0"/>
<circle cx="813.3" cy="235.6" r="1.3" fill="#fff" stroke="#f6a62a" stroke-width="1.0"/>
<circle cx="862.2" cy="235.6" r="1.3" fill="#fff" stroke="#ffd400" stroke-width="1.0"/>
<circle cx="888.9" cy="235.6" r="1.3" fill="#fff" stroke="#ffd400" stroke-width="1.0"/>
<circle cx="915.6" cy="235.6" r="1.3" fill="#fff" stroke="#ffd400" stroke-width="1.0"/>
<circle cx="942.2" cy="235.6" r="1.3" fill="#fff" stroke="#ffd400" stroke-width="1.0"/>
<circle cx="968.9" cy="235.6" r="1.3" fill="#fff" stroke="#ffd400" stroke-width="1.0"/>
<circle cx="986.7" cy="235.6" r="1.3" fill="#fff" stroke="#ffd400" stroke-width="1.0"/>
<circle cx="1004.4" cy="208.9" r="1.3" fill="#fff" stroke="#ffd400" stroke-width="1.0"/>
<circle cx="1004.4" cy="182.2" r="1.3" fill="#fff" stroke="#ffd400" stroke-width="1.0"/>
<circle cx="1022.2" cy="160.0" r="1.3" fill="#fff" stroke="#ffd400" stroke-width="1.0"/>
<circle cx="1040.0" cy="142.2" r="1.3" fill="#fff" stroke="#ffd400" stroke-width="1.0"/>
<circle cx="1057.8" cy="124.4" r="1.3" fill="#fff" stroke="#ffd400" stroke-width="1.0"/>
<circle cx="1093.3" cy="88.9" r="1.3" fill="#fff" stroke="#ffd400" stroke-width="1.0"/>
<circle cx="1115.6" cy="66.7" r="1.3" fill="#fff" stroke="#ffd400" stroke-width="1.0"/>
<circle cx="1071.1" cy="66.7" r="1.3" fill="#fff" stroke="#ffd400" stroke-width="1.0"/>
<circle cx="693.3" cy="408.9" r="1.3" fill="#fff" stroke="#f3a79b" stroke-width="1.0"/>
<circle cx="1004.4" cy="444.4" r="1.3" fill="#fff" stroke="#08773c" stroke-width="1.0"/>
<circle cx="1000.0" cy="471.1" r="1.3" fill="#fff" stroke="#08773c" stroke-width="1.0"/>
<circle cx="986.7" cy="475.6" r="1.3" fill="#fff" stroke="#08773c" stroke-width="1.0"/>
<circle cx="973.3" cy="462.2" r="1.3" fill="#fff" stroke="#08773c" stroke-width="1.0"/>
<circle cx="951.1" cy="462.2" r="1.3" fill="#fff" stroke="#08773c" stroke-width="1.0"/>
<circle cx="942.2" cy="488.9" r="1.3" fill="#fff" stroke="#08773c" stroke-width="1.0"/>
<circle cx="911.1" cy="546.7" r="1.3" fill="#fff" stroke="#08773c" stroke-width="1.0"/>
<circle cx="937.8" cy="591.1" r="1.3" fill="#fff" stroke="#08773c" stroke-width="1.0"/>
<circle cx="791.1" cy="617.8" r="1.3" fill="#fff" stroke="#08773c" stroke-width="1.0"/>
<circle cx="697.8" cy="648.9" r="1.3" fill="#fff" stroke="#08773c" stroke-width="1.0"/>
<circle cx="675.6" cy="680.0" r="1.3" fill="#fff" stroke="#08773c" stroke-width="1.0"/>
<circle cx="617.8" cy="720.0" r="1.3" fill="#fff" stroke="#08773c" stroke-width="1.0"/>
<circle cx="600.0" cy="737.8" r="1.3" fill="#fff" stroke="#08773c" stroke-width="1.0"/>
<circle cx="586.7" cy="751.1" r="1.3" fill="#fff" stroke="#08773c" stroke-width="1.0"/>
<circle cx="586.7" cy="768.9" r="1.3" fill="#fff" stroke="#08773c" stroke-width="1.0"/>
<circle cx="586.7" cy="791.1" r="1.3" fill="#fff" stroke="#08773c" stroke-width="1.0"/>
<circle cx="586.7" cy="813.3" r="1.3" fill="#fff" stroke="#08773c" stroke-width="1.0"/>
<circle cx="586.7" cy="844.4" r="1.3" fill="#fff" stroke="#08773c" stroke-width="1.0"/>
<circle cx="586.7" cy="875.6" r="1.3" fill="#fff" stroke="#08773c" stroke-width="1.0"/>
<circle cx="586.7" cy="951.1" r="2.2" fill="#fff" stroke="#000" stroke-width="0.9"/>
<circle cx="946.7" cy="533.3" r="1.3" fill="#fff" stroke="#1a237e" stroke-width="1.0"/>
<circle cx="924.4" cy="555.6" r="1.3" fill="#fff" stroke="#1a237e" stroke-width="1.0"/>
<circle cx="955.6" cy="586.7" r="1.3" fill="#fff" stroke="#1a237e" stroke-width="1.0"/>
<circle cx="977.8" cy="595.6" r="1.3" fill="#fff" stroke="#1a237e" stroke-width="1.0"/>
<circle cx="968.9" cy="608.9" r="1.3" fill="#fff" stroke="#1a237e" stroke-width="1.0"/>
<circle cx="946.7" cy="604.4" r="1.3" fill="#fff" stroke="#1a237e" stroke-width="1.0"/>
<circle cx="933.3" cy="617.8" r="1.3" fill="#fff" stroke="#1a237e" stroke-width="1.0"/>
<circle cx="933.3" cy="631.1" r="1.3" fill="#fff" stroke="#1a237e" stroke-width="1.0"/>
<circle cx="955.6" cy="644.4" r="1.3" fill="#fff" stroke="#1a237e" stroke-width="1.0"/>
<circle cx="951.1" cy="688.9" r="1.3" fill="#fff" stroke="#1a237e" stroke-width="1.0"/>
<circle cx="964.4" cy="786.7" r="1.3" fill="#fff" stroke="#1a237e" stroke-width="1.0"/>
<circle cx="924.4" cy="666.7" r="1.3" fill="#fff" stroke="#0097a7" stroke-width="1.0"/>
<circle cx="902.2" cy="764.4" r="1.3" fill="#fff" stroke="#0097a7" stroke-width="1.0"/>
<circle cx="1022.2" cy="826.7" r="1.3" fill="#fff" stroke="#0097a7" stroke-width="1.0"/>
<circle cx="1057.8" cy="826.7" r="1.3" fill="#fff" stroke="#0097a7" stroke-width="1.0"/>
<circle cx="995.6" cy="844.4" r="1.3" fill="#fff" stroke="#a82a1a" stroke-width="1.0"/>
<circle cx="991.1" cy="862.2" r="1.3" fill="#fff" stroke="#a82a1a" stroke-width="1.0"/>
<circle cx="964.4" cy="862.2" r="1.3" fill="#fff" stroke="#a82a1a" stroke-width="1.0"/>
<circle cx="946.7" cy="875.6" r="1.3" fill="#fff" stroke="#a82a1a" stroke-width="1.0"/>
<circle cx="928.9" cy="893.3" r="1.3" fill="#fff" stroke="#a82a1a" stroke-width="1.0"/>
<circle cx="1093.3" cy="684.4" r="1.3" fill="#fff" stroke="#a82a1a" stroke-width="1.0"/>
<circle cx="968.9" cy="804.4" r="1.3" fill="#fff" stroke="#4e342e" stroke-width="1.0"/>
<circle cx="1035.6" cy="804.4" r="1.3" fill="#fff" stroke="#4e342e" stroke-width="1.0"/>
<g font-family="'Liberation Sans',Arial,sans-serif" font-weight="700" font-size="4.44" fill="#000">
<text x="227.8" y="285.4" text-anchor="end">Paracambi</text>
<text transform="translate(244.4 297.8) rotate(-45)" x="-3.3" y="1.15" text-anchor="end">Lages</text>
<text transform="translate(280.0 297.8) rotate(-45)" x="-6.7" y="1.15" text-anchor="end">Japeri</text>
<text transform="translate(328.9 297.8) rotate(-45)" x="-3.3" y="1.15" text-anchor="end">Engenheiro Pedreira</text>
<text transform="translate(351.1 297.8) rotate(-45)" x="-3.3" y="1.15" text-anchor="end">Queimados</text>
<text transform="translate(386.7 297.8) rotate(-45)" x="-3.3" y="1.15" text-anchor="end">Austin</text>
<text transform="translate(413.3 311.1) rotate(-45)" x="-3.3" y="1.15" text-anchor="end">Rodilândia</text>
<text transform="translate(435.6 328.9) rotate(-45)" x="-3.3" y="1.15" text-anchor="end">Comendador Soares</text>
<text x="472.2" y="343.2" text-anchor="end">Nova Iguaçu</text>
<text x="494.4" y="365.4" text-anchor="end">Juscelino</text>
<text x="498.9" y="392.1" text-anchor="end">Mesquita</text>
<text x="498.9" y="418.8" text-anchor="end">Edson Passos</text>
<text x="498.9" y="472.1" text-anchor="end">Olinda</text>
<text x="498.9" y="498.8" text-anchor="end">Anchieta</text>
<text x="507.8" y="521.0" text-anchor="end">Ricardo de Albuquerque</text>
<text x="530.0" y="178.8" text-anchor="end">Vila Ômega</text>
<text x="530.0" y="196.6" text-anchor="end">Parque Saudade</text>
<text x="530.0" y="209.9" text-anchor="end">Figueiras</text>
<text x="530.0" y="227.7" text-anchor="end">Parque Ambaí</text>
<text x="530.0" y="245.4" text-anchor="end">Vila São Teodoro - Miguel Couto</text>
<text x="530.0" y="263.2" text-anchor="end">Orquídeas</text>
<text x="530.0" y="281.0" text-anchor="end">Heliópolis</text>
<text x="561.1" y="369.9" text-anchor="end">Coelho da Rocha</text>
<text x="565.6" y="392.1" text-anchor="end">Agostinho Porto</text>
<text x="587.8" y="423.2" text-anchor="end">Vila Rosali</text>
<text x="584.4" y="449.9" text-anchor="end">Pavuna / São João de Meriti</text>
<text x="602.2" y="449.9">Pavuna</text>
<text x="583.3" y="481.0" text-anchor="end">Costa Barros</text>
<text x="587.8" y="529.9" text-anchor="end">Barros Filho</text>
<text x="592.2" y="552.1" text-anchor="end">Honório Gurgel</text>
<text transform="translate(613.3 568.9) rotate(-45)" x="3.3" y="1.15">Parque Madureira</text>
<text transform="translate(626.7 595.6) rotate(-45)" x="3.3" y="1.15">Mercadão de Madureira</text>
<text transform="translate(644.4 613.3) rotate(-45)" x="3.3" y="1.15">Engenho Leal</text>
<text transform="translate(657.8 626.7) rotate(-45)" x="3.3" y="1.15">Cavalcanti</text>
<text transform="translate(684.4 626.7) rotate(-45)" x="3.3" y="1.15">Tomás Coelho</text>
<text x="718.9" y="627.1" text-anchor="middle">Pilares</text>
<text x="753.3" y="639.4" text-anchor="middle">Cachambi</text>
<text x="794.4" y="632.1">Del Castilho</text>
<text x="825.6" y="645.4">Jacarezinho</text>
<text transform="translate(608.9 480.0) rotate(-45)" x="3.3" y="1.15">Engenheiro Rubens Paiva</text>
<text transform="translate(626.7 497.8) rotate(-45)" x="3.3" y="1.15">Acari</text>
<text transform="translate(644.4 515.6) rotate(-45)" x="3.3" y="1.15">Coelho Neto</text>
<text transform="translate(662.2 533.3) rotate(-45)" x="3.3" y="1.15">Colégio</text>
<text transform="translate(680.0 551.1) rotate(-45)" x="3.3" y="1.15">Irajá</text>
<text transform="translate(702.2 573.3) rotate(-45)" x="3.3" y="1.15">Vicente de Carvalho</text>
<text transform="translate(720.0 591.1) rotate(-45)" x="3.3" y="1.15">Thomaz Coelho</text>
<text transform="translate(742.2 595.6) rotate(-45)" x="3.3" y="1.15">Engenho da Rainha</text>
<text transform="translate(764.4 608.9) rotate(-45)" x="3.3" y="1.15">Inhaúma</text>
<text x="832.2" y="663.2" text-anchor="end">Maria da Graça</text>
<text x="851.1" y="685.4" text-anchor="end">Triagem</text>
<text transform="translate(880.0 697.8) rotate(-45)" x="6.7" y="1.15">Maracanã</text>
<text transform="translate(880.0 720.0) rotate(-45)" x="-6.7" y="1.15" text-anchor="end">Maracanã</text>
<text transform="translate(902.2 724.4) rotate(-45)" x="-6.7" y="1.15" text-anchor="end">São Cristóvão</text>
<text x="972.2" y="757.7" text-anchor="middle">Cidade Nova</text>
<text x="1002.2" y="726.8" text-anchor="middle">Central do Brasil</text>
<text x="1087.8" y="796.6">Cinelândia / Centro</text>
<text x="1087.8" y="805.4">Glória</text>
<text x="1087.8" y="814.3">Catete</text>
<text x="1087.8" y="823.2">Largo do Machado</text>
<text x="1087.8" y="832.1">Flamengo</text>
<text x="1091.1" y="841.0">Carlos Guinle / Botafogo</text>
<text x="1083.3" y="858.8">Botafogo</text>
<text x="1083.3" y="876.6">Pasteur / Urca</text>
<text x="1083.3" y="889.9">Pão de Açúcar / Urca</text>
<text x="1074.4" y="898.8">Leme</text>
<text x="1061.1" y="912.1">Praça do Lido</text>
<text x="1047.8" y="925.4">Constante Ramos</text>
<text x="1034.4" y="938.8">Arpoador</text>
<text transform="translate(1004.4 942.2) rotate(45)" x="6.7" y="1.15">General Osório</text>
<text x="1100.0" y="787.7">Carioca / Centro</text>
<text transform="translate(720.0 911.1) rotate(-45)" x="6.7" y="1.15">Jardim Oceânico</text>
<text x="763.3" y="871.6" text-anchor="middle">Itanhangá</text>
<text x="798.9" y="882.2" text-anchor="middle">Alto da Boa Vista</text>
<text x="843.3" y="882.2" text-anchor="middle">Usina</text>
<text x="863.3" y="867.7" text-anchor="end">Pinheiro Guimarães</text>
<text x="876.7" y="854.3" text-anchor="end">Uruguai</text>
<text x="900.0" y="841.0">Saens Peña</text>
<text x="903.3" y="827.7" text-anchor="end">São Francisco Xavier</text>
<text x="913.3" y="814.3" text-anchor="end">Afonso Pena</text>
<text x="981.1" y="775.5" text-anchor="middle">Praça Onze</text>
<text x="1072.2" y="876.6" text-anchor="end">São João Batista</text>
<text x="1058.9" y="894.3" text-anchor="end">Cardeal Arcoverde</text>
<text x="1045.6" y="907.7" text-anchor="end">Siqueira Campos</text>
<text x="1027.8" y="925.4" text-anchor="end">Cantagalo</text>
<text transform="translate(391.1 915.6) rotate(45)" x="-6.7" y="1.15" text-anchor="end">Recreio dos Bandeirantes</text>
<text transform="translate(408.9 915.6) rotate(45)" x="-3.3" y="1.15" text-anchor="end">Nova Barra</text>
<text transform="translate(426.7 915.6) rotate(45)" x="-3.3" y="1.15" text-anchor="end">Glaucio Gil</text>
<text transform="translate(448.9 915.6) rotate(45)" x="-6.7" y="1.15" text-anchor="end">Salvador Allende</text>
<text transform="translate(462.2 915.6) rotate(-45)" x="3.3" y="1.15">Pontões</text>
<text transform="translate(480.0 915.6) rotate(-45)" x="3.3" y="1.15">Pedra de Itaúna</text>
<text transform="translate(497.8 915.6) rotate(-45)" x="3.3" y="1.15">Interlagos</text>
<text transform="translate(520.0 915.6) rotate(-45)" x="3.3" y="1.15">Riomar</text>
<text transform="translate(542.2 915.6) rotate(-45)" x="3.3" y="1.15">Santa Mônica</text>
<text transform="translate(564.4 915.6) rotate(-45)" x="-3.3" y="1.15" text-anchor="end">Bosque da Barra</text>
<text transform="translate(586.7 911.1) rotate(-45)" x="6.7" y="1.15">Terminal Alvorada</text>
<text transform="translate(604.4 915.6) rotate(-45)" x="3.3" y="1.15">Barra Shopping</text>
<text transform="translate(626.7 915.6) rotate(-45)" x="3.3" y="1.15">Parque das Rosas</text>
<text transform="translate(648.9 915.6) rotate(-45)" x="3.3" y="1.15">Riviera</text>
<text transform="translate(666.7 915.6) rotate(-45)" x="3.3" y="1.15">Martin Luther King</text>
<text transform="translate(688.9 915.6) rotate(-45)" x="3.3" y="1.15">Marapendi</text>
<text transform="translate(844.4 933.3) rotate(45)" x="3.3" y="1.15">São Conrado</text>
<text transform="translate(924.4 942.2) rotate(45)" x="6.7" y="1.15">Antero de Quental</text>
<text transform="translate(951.1 942.2) rotate(45)" x="6.7" y="1.15">Jardim de Alah</text>
<text transform="translate(977.8 942.2) rotate(45)" x="6.7" y="1.15">Nossa Senhora da Paz</text>
<text x="477.8" y="549.1" text-anchor="middle">Magalhães Bastos</text>
<text x="447.8" y="929.9">Guignard</text>
<text x="425.6" y="938.8">Alfredo Balthazar</text>
<text transform="translate(413.3 946.7) rotate(45)" x="-3.3" y="1.15" text-anchor="end">Chico Mendes</text>
<text transform="translate(400.0 951.1) rotate(45)" x="-6.7" y="1.15" text-anchor="end">Praia do Pontal</text>
<text transform="translate(231.1 706.7) rotate(45)" x="-6.7" y="1.15" text-anchor="end">Santa Cruz</text>
<text transform="translate(262.2 706.7) rotate(45)" x="-3.3" y="1.15" text-anchor="end">Tancredo Neves</text>
<text transform="translate(280.0 706.7) rotate(45)" x="-3.3" y="1.15" text-anchor="end">Paciência</text>
<text x="303.3" y="694.3" text-anchor="end">Cosmos</text>
<text x="316.7" y="681.0" text-anchor="end">Inhoaíba</text>
<text x="330.0" y="667.7" text-anchor="end">Benjamin do Monte</text>
<text x="347.8" y="649.9" text-anchor="end">Campo Grande</text>
<text x="361.1" y="636.6" text-anchor="end">Augusto Vasconcelos</text>
<text x="374.4" y="623.2" text-anchor="end">Santíssimo</text>
<text x="387.8" y="609.9" text-anchor="end">Senador Camará</text>
<text x="401.1" y="596.6" text-anchor="end">Bangu</text>
<text x="414.4" y="583.2" text-anchor="end">Guilherme da Silveira</text>
<text x="427.8" y="569.9" text-anchor="end">Mocidade de Padre Miguel</text>
<text x="441.1" y="556.6" text-anchor="end">Realengo</text>
<text x="510.0" y="551.6" text-anchor="middle">Vila Militar</text>
<text transform="translate(542.2 555.6) rotate(-45)" x="-6.7" y="1.15" text-anchor="end">Deodoro</text>
<text transform="translate(560.0 573.3) rotate(-45)" x="-3.3" y="1.15" text-anchor="end">Marechal Hermes</text>
<text transform="translate(582.2 586.7) rotate(-45)" x="-6.7" y="1.15" text-anchor="end">Bento Ribeiro</text>
<text transform="translate(600.0 595.6) rotate(-45)" x="-6.7" y="1.15" text-anchor="end">Oswaldo Cruz</text>
<text transform="translate(617.8 617.8) rotate(-45)" x="-6.7" y="1.15" text-anchor="end">Madureira</text>
<text transform="translate(635.6 631.1) rotate(-45)" x="-6.7" y="1.15" text-anchor="end">Cascadura</text>
<text transform="translate(648.9 644.4) rotate(-45)" x="-3.3" y="1.15" text-anchor="end">Quintino</text>
<text x="670.0" y="668.8" text-anchor="middle">Piedade</text>
<text transform="translate(715.6 662.2) rotate(-45)" x="-6.7" y="1.15" text-anchor="end">Engenho de Dentro</text>
<text transform="translate(746.7 684.4) rotate(-45)" x="-6.7" y="1.15" text-anchor="end">Méier</text>
<text transform="translate(773.3 702.2) rotate(-45)" x="-6.7" y="1.15" text-anchor="end">Silva Freire</text>
<text transform="translate(786.7 702.2) rotate(-45)" x="-3.3" y="1.15" text-anchor="end">Engenho Novo</text>
<text transform="translate(813.3 702.2) rotate(-45)" x="-3.3" y="1.15" text-anchor="end">Sampaio</text>
<text transform="translate(840.0 702.2) rotate(-45)" x="-3.3" y="1.15" text-anchor="end">Riachuelo</text>
<text transform="translate(862.2 706.7) rotate(-45)" x="-6.7" y="1.15" text-anchor="end">São Francisco Xavier</text>
<text x="797.8" y="254.3" text-anchor="end">Saracuruna</text>
<text x="794.4" y="276.6">Jardim Primavera</text>
<text x="772.2" y="298.8">Campos Elísios</text>
<text x="750.0" y="321.0">São Bento / Caxias</text>
<text x="732.2" y="347.7">Gramacho</text>
<text x="732.2" y="374.3">Corte Oito</text>
<text x="732.2" y="401.0">Duque de Caxias</text>
<text x="738.9" y="427.7" text-anchor="end">Vigário Geral</text>
<text x="747.8" y="463.2" text-anchor="end">Parada de Lucas</text>
<text x="747.8" y="489.9" text-anchor="end">Cordovil</text>
<text transform="translate(760.0 515.6) rotate(-45)" x="3.3" y="1.15">Brás de Pina</text>
<text transform="translate(777.8 533.3) rotate(-45)" x="3.3" y="1.15">Penha Circular</text>
<text transform="translate(795.6 551.1) rotate(-45)" x="3.3" y="1.15">Penha</text>
<text transform="translate(813.3 568.9) rotate(-45)" x="3.3" y="1.15">Olaria</text>
<text transform="translate(831.1 586.7) rotate(-45)" x="3.3" y="1.15">Ramos</text>
<text transform="translate(848.9 604.4) rotate(-45)" x="3.3" y="1.15">Bonsucesso</text>
<text x="865.6" y="645.4">Manguinhos</text>
<text x="912.2" y="81.0" text-anchor="end">Petrópolis</text>
<text x="912.2" y="125.4" text-anchor="end">Vila Inhomirim</text>
<text x="894.4" y="143.2" text-anchor="end">Fragoso</text>
<text x="876.7" y="161.0" text-anchor="end">Piabetá</text>
<text x="858.9" y="178.8" text-anchor="end">Parada Angelica</text>
<text x="841.1" y="196.6" text-anchor="end">Manoel Belo</text>
<text x="823.3" y="214.3" text-anchor="end">Imbariê</text>
<text x="810.0" y="236.6" text-anchor="end">Parada Morabi</text>
<text transform="translate(862.2 235.6) rotate(-45)" x="3.3" y="1.15">Parque Estrela</text>
<text transform="translate(888.9 235.6) rotate(-45)" x="3.3" y="1.15">Santa Dália</text>
<text transform="translate(915.6 235.6) rotate(-45)" x="3.3" y="1.15">Suruí</text>
<text transform="translate(942.2 235.6) rotate(-45)" x="3.3" y="1.15">Santa Guilhermina</text>
<text transform="translate(968.9 235.6) rotate(-45)" x="3.3" y="1.15">Iriri</text>
<text transform="translate(986.7 235.6) rotate(-45)" x="3.3" y="1.15">Magé</text>
<text x="1007.8" y="209.9">Nova Marília</text>
<text x="1007.8" y="183.2">Jororó</text>
<text x="1025.6" y="161.0">Citrolândia</text>
<text x="1043.3" y="143.2">Parada Ideal</text>
<text x="1061.1" y="125.4">Jardim Guapimirim</text>
<text x="1078.9" y="107.7">Parada Modelo</text>
<text x="1096.7" y="89.9">Parada Bananal</text>
<text x="1118.9" y="67.7">Guapimirim</text>
<text x="1067.8" y="67.7" text-anchor="end">Teresópolis</text>
<text x="690.0" y="409.9" text-anchor="end">Cavaleiros</text>
<text x="1007.8" y="445.4">Cocotá</text>
<text x="1003.3" y="472.1">Jardim Carioca</text>
<text x="990.0" y="482.2" text-anchor="middle">Cacuia</text>
<text x="976.7" y="458.2" text-anchor="middle">Jardim Guanabara</text>
<text x="947.8" y="463.2" text-anchor="end">Portuguesa</text>
<text x="938.9" y="489.9" text-anchor="end">Base Aérea</text>
<text x="935.6" y="521.0">Galeão</text>
<text x="907.8" y="547.7" text-anchor="end">Hospital Universitário / UFRJ</text>
<text x="922.2" y="569.9" text-anchor="end">Horácio Macedo / UFRJ</text>
<text x="940.0" y="583.2" text-anchor="end">Giulio Massarani / UFRJ</text>
<text x="934.4" y="592.1" text-anchor="end">Lobo Carneiro / UFRJ</text>
<text x="794.4" y="613.8" text-anchor="middle">Nova América</text>
<text x="753.3" y="615.7" text-anchor="middle">Faria-Timbó</text>
<text x="694.4" y="649.9" text-anchor="end">Encantado</text>
<text x="672.2" y="681.0" text-anchor="end">Borja Reis</text>
<text x="614.4" y="721.0" text-anchor="end">Pau Ferro</text>
<text x="596.7" y="738.8" text-anchor="end">Geremário Dantas</text>
<text x="583.3" y="752.1" text-anchor="end">Freguesia</text>
<text x="583.3" y="769.9" text-anchor="end">Gabinal</text>
<text x="583.3" y="792.1" text-anchor="end">Gardênia Azul</text>
<text x="583.3" y="814.3" text-anchor="end">Barra Olímpica</text>
<text x="583.3" y="845.4" text-anchor="end">Via Parque</text>
<text x="583.3" y="876.6" text-anchor="end">Península</text>
<text transform="translate(586.7 951.1) rotate(-45)" x="6.7" y="1.15">Ayrton Senna</text>
<text x="950.0" y="534.3">Paulo Freire / UFRJ</text>
<text x="927.8" y="556.6">Chagas Filho / UFRJ</text>
<text x="958.9" y="587.7">Pedro Calmon / UFRJ</text>
<text x="981.1" y="596.6">Paschoal Leme / UFRJ</text>
<text x="972.2" y="609.9">Hélio de Almeida / UFRJ</text>
<text x="950.0" y="600.4" text-anchor="middle">Fundão / UFRJ</text>
<text x="930.0" y="618.8" text-anchor="end">Caju</text>
<text x="930.0" y="632.1" text-anchor="end">Vasco da Gama</text>
<text x="958.9" y="640.4" text-anchor="middle">Praça da República</text>
<text x="980.0" y="654.3">Terminal Gentileza</text>
<text x="947.8" y="689.9" text-anchor="end">Leopoldina</text>
<text x="944.4" y="783.2" text-anchor="end">Estácio</text>
<text x="967.8" y="793.3" text-anchor="middle">Marquês de Sapucaí</text>
<text x="1006.7" y="783.2">Cruz Vermelha</text>
<text x="1136.7" y="747.7">Praça XV</text>
<text x="921.1" y="667.7" text-anchor="end">Quinta da Boa Vista</text>
<text x="898.9" y="765.4" text-anchor="end">Campos Sales</text>
<text x="953.3" y="827.7">Rio Comprido</text>
<text x="1003.3" y="832.1">Cosme Velho / Corcovado</text>
<text x="1025.6" y="822.7" text-anchor="middle">Laranjeiras</text>
<text x="1061.1" y="822.7" text-anchor="middle">Paissandu</text>
<text x="895.6" y="916.6" text-anchor="end">PUC / Gávea</text>
<text x="998.9" y="845.4">Largo dos Leões</text>
<text transform="translate(991.1 862.2) rotate(45)" x="-3.3" y="1.15" text-anchor="end">Humaitá</text>
<text transform="translate(964.4 862.2) rotate(45)" x="-3.3" y="1.15" text-anchor="end">Lagoa</text>
<text x="943.3" y="876.6" text-anchor="end">Jardim Botânico</text>
<text x="925.6" y="894.3" text-anchor="end">Jockey Club</text>
<text x="1096.7" y="685.4">Visc. de Mauá</text>
<text transform="translate(1000.0 804.4) rotate(-45)" x="6.7" y="1.15">Fátima</text>
<text x="965.6" y="805.4" text-anchor="end">Catumbi</text>
<text x="1038.9" y="811.0" text-anchor="middle">Arcos da Lapa</text>
<text x="874.4" y="458.2" text-anchor="middle">Terminal Aeroporto do Galeão</text>
<polyline points="1315.6,13.3 1542.2,13.3 1546.7,17.8 1546.7,26.7 1542.2,31.1 1315.6,31.1 1311.1,26.7 1311.1,17.8 1315.6,13.3" fill="none" stroke="#4e342e" stroke-width="2.40" stroke-linecap="round" stroke-linejoin="round"/>
<polyline points="1328.9,31.1 1333.3,35.6 1337.8,31.1" fill="none" stroke="#4e342e" stroke-width="2.40" stroke-linecap="round" stroke-linejoin="round"/>
<polyline points="1417.8,31.1 1422.2,35.6 1426.7,31.1" fill="none" stroke="#4e342e" stroke-width="2.40" stroke-linecap="round" stroke-linejoin="round"/>
<polyline points="1520.0,31.1 1524.4,35.6 1528.9,31.1" fill="none" stroke="#4e342e" stroke-width="2.40" stroke-linecap="round" stroke-linejoin="round"/>
<polyline points="1333.3,35.6 1333.3,182.2 1337.8,186.7 1417.8,186.7 1422.2,182.2 1426.7,186.7 1520.0,186.7 1524.4,182.2 1524.4,35.6" fill="none" stroke="#4e342e" stroke-width="2.40" stroke-linecap="round" stroke-linejoin="round"/>
<polyline points="1422.2,35.6 1422.2,182.2" fill="none" stroke="#4e342e" stroke-width="2.40" stroke-linecap="round" stroke-linejoin="round"/>
<circle cx="1382.2" cy="22.2" r="4.3" fill="#fff" stroke="#000" stroke-width="1.1"/>
<circle cx="1382.2" cy="22.2" r="2.0" fill="#fff" stroke="#000" stroke-width="1.3"/>
<text x="1388.9" y="23.2">Mapa do Transporte Metropolitano Carioca</text>
<polyline points="1342.2,44.4 1355.6,44.4" fill="none" stroke="#f57c00" stroke-width="2.60" stroke-linecap="round" stroke-linejoin="round"/>
<circle cx="1342.2" cy="44.4" r="1.15" fill="#fff" stroke="#f57c00" stroke-width="0.8"/>
<circle cx="1355.6" cy="44.4" r="1.15" fill="#fff" stroke="#f57c00" stroke-width="0.8"/>
<text x="1358.9" y="45.4">Linha 1 Laranja - Metrô</text>
<polyline points="1342.2,53.3 1355.6,53.3" fill="none" stroke="#aab22c" stroke-width="2.60" stroke-linecap="round" stroke-linejoin="round"/>
<circle cx="1342.2" cy="53.3" r="1.15" fill="#fff" stroke="#aab22c" stroke-width="0.8"/>
<circle cx="1355.6" cy="53.3" r="1.15" fill="#fff" stroke="#aab22c" stroke-width="0.8"/>
<text x="1358.9" y="54.3">Linha 2 Verde - Metrô</text>
<polyline points="1342.2,62.2 1355.6,62.2" fill="none" stroke="#3b48b0" stroke-width="2.60" stroke-linecap="round" stroke-linejoin="round"/>
<circle cx="1342.2" cy="62.2" r="1.15" fill="#fff" stroke="#3b48b0" stroke-width="0.8"/>
<circle cx="1355.6" cy="62.2" r="1.15" fill="#fff" stroke="#3b48b0" stroke-width="0.8"/>
<text x="1358.9" y="63.2">Linha 3 Azul - Metrô</text>
<polyline points="1342.2,71.1 1355.6,71.1" fill="none" stroke="#ffe800" stroke-width="2.60" stroke-linecap="round" stroke-linejoin="round"/>
<circle cx="1342.2" cy="71.1" r="1.15" fill="#fff" stroke="#ffe800" stroke-width="0.8"/>
<circle cx="1355.6" cy="71.1" r="1.15" fill="#fff" stroke="#ffe800" stroke-width="0.8"/>
<text x="1358.9" y="72.1">Linha 4 Amarela - Metrô</text>
<circle cx="1355.6" cy="80.0" r="4.3" fill="#e4570b"/>
<circle cx="1355.6" cy="80.0" r="0.9" fill="#fff"/>
<text x="1358.9" y="81.0">Linha 5 Coral - Trem</text>
<polyline points="1342.2,88.9 1355.6,88.9" fill="none" stroke="#ffd400" stroke-width="2.60" stroke-linecap="round" stroke-linejoin="round"/>
<circle cx="1342.2" cy="88.9" r="1.15" fill="#fff" stroke="#ffd400" stroke-width="0.8"/>
<circle cx="1355.6" cy="88.9" r="1.15" fill="#fff" stroke="#ffd400" stroke-width="0.8"/>
<text x="1358.9" y="89.9">Linha 6 Citrino - Trem</text>
<polyline points="1342.2,97.8 1355.6,97.8" fill="none" stroke="#6337bb" stroke-width="2.60" stroke-linecap="round" stroke-linejoin="round"/>
<circle cx="1342.2" cy="97.8" r="1.15" fill="#fff" stroke="#6337bb" stroke-width="0.8"/>
<circle cx="1355.6" cy="97.8" r="1.15" fill="#fff" stroke="#6337bb" stroke-width="0.8"/>
<text x="1358.9" y="98.8">Linha 7 Ametista - Trem</text>
<polyline points="1342.2,106.7 1355.6,106.7" fill="none" stroke="#a3bdf7" stroke-width="2.60" stroke-linecap="round" stroke-linejoin="round"/>
<circle cx="1342.2" cy="106.7" r="1.15" fill="#fff" stroke="#a3bdf7" stroke-width="0.8"/>
<circle cx="1355.6" cy="106.7" r="1.15" fill="#fff" stroke="#a3bdf7" stroke-width="0.8"/>
<text x="1358.9" y="107.7">Linha 8 - Cristal - Trem</text>
<polyline points="1342.2,115.6 1355.6,115.6" fill="none" stroke="#568c2e" stroke-width="2.60" stroke-linecap="round" stroke-linejoin="round"/>
<circle cx="1342.2" cy="115.6" r="1.15" fill="#fff" stroke="#568c2e" stroke-width="0.8"/>
<circle cx="1355.6" cy="115.6" r="1.15" fill="#fff" stroke="#568c2e" stroke-width="0.8"/>
<text x="1358.9" y="116.6">Linha 9 Esmeralda - Trem</text>
<polyline points="1342.2,124.4 1355.6,124.4" fill="none" stroke="#c2185b" stroke-width="2.60" stroke-linecap="round" stroke-linejoin="round"/>
<circle cx="1342.2" cy="124.4" r="1.15" fill="#fff" stroke="#c2185b" stroke-width="0.8"/>
<circle cx="1355.6" cy="124.4" r="1.15" fill="#fff" stroke="#c2185b" stroke-width="0.8"/>
<text x="1358.9" y="125.4">Linha 10 Rubi - Trem</text>
<polyline points="1342.2,133.3 1355.6,133.3" fill="none" stroke="#08773c" stroke-width="0.80" stroke-linecap="round" stroke-linejoin="round"/>
<polyline points="1342.2,133.3 1355.6,133.3" fill="none" stroke="#fff" stroke-width="0.30" stroke-linecap="round" stroke-linejoin="round"/>
<circle cx="1342.2" cy="133.3" r="1.15" fill="#fff" stroke="#08773c" stroke-width="0.8"/>
<circle cx="1355.6" cy="133.3" r="1.15" fill="#fff" stroke="#08773c" stroke-width="0.8"/>
<text x="1358.9" y="134.3">Linha 11 Íris - VLT</text>
<circle cx="1351.1" cy="168.9" r="4.4" fill="#b2ebf2"/>
</g>
</svg>
</body></html>
